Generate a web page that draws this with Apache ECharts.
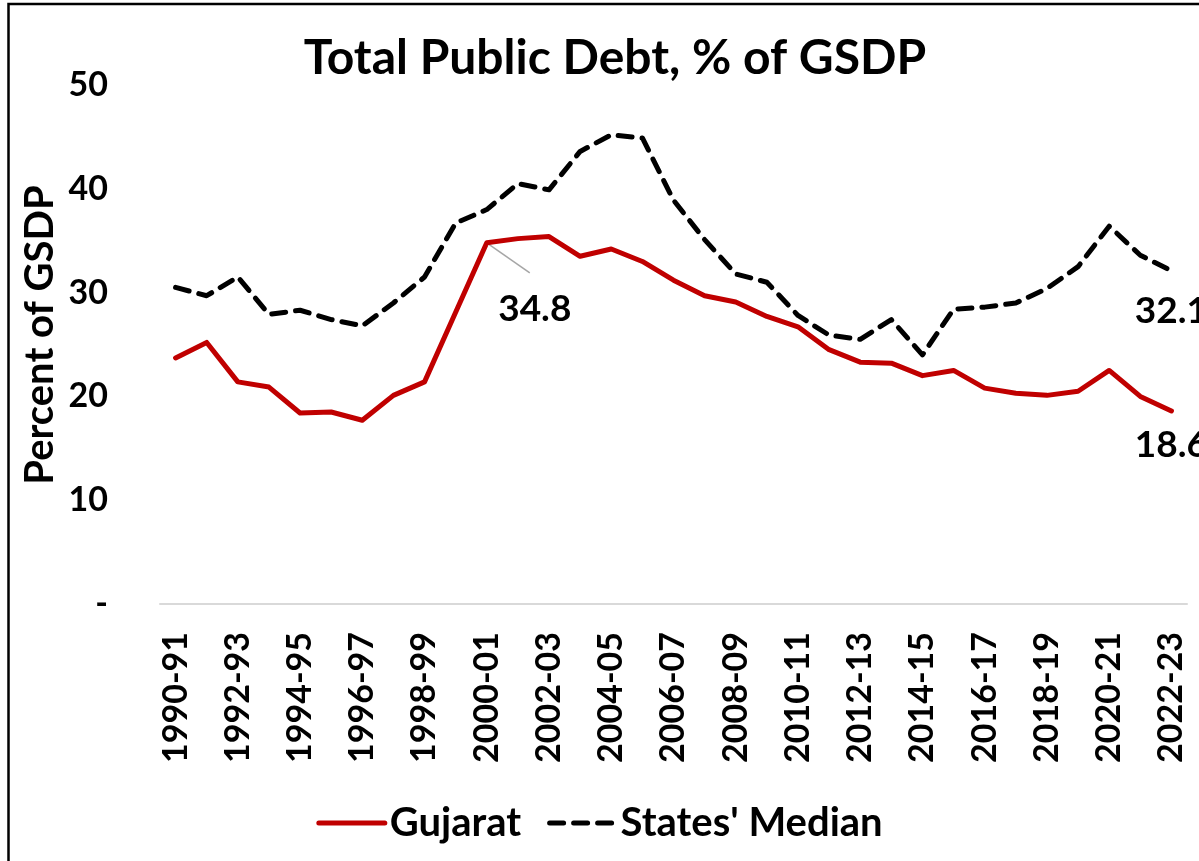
<!DOCTYPE html>
<html>
<head>
<meta charset="utf-8">
<script src="https://cdn.jsdelivr.net/npm/echarts@6/dist/echarts.min.js"></script>
<style>
  html, body { margin: 0; padding: 0; background: #fff; }
  #chart { width: 1199px; height: 861px; }
</style>
</head>
<body>
<div id="chart"></div>
<script>
const categories = ["1990-91","1991-92","1992-93","1993-94","1994-95","1995-96","1996-97","1997-98","1998-99","1999-00",
  "2000-01","2001-02","2002-03","2003-04","2004-05","2005-06","2006-07","2007-08","2008-09","2009-10",
  "2010-11","2011-12","2012-13","2013-14","2014-15","2015-16","2016-17","2017-18","2018-19","2019-20",
  "2020-21","2021-22","2022-23"];
const gujarat = [23.7, 25.2, 21.4, 20.9, 18.4, 18.5, 17.7, 20.1, 21.4, 28.1,
  34.8, 35.2, 35.4, 33.5, 34.2, 33.0, 31.2, 29.7, 29.1, 27.7,
  26.7, 24.5, 23.3, 23.2, 22.0, 22.5, 20.8, 20.3, 20.1, 20.5,
  22.5, 20.0, 18.6];
const statesMedian = [30.5, 29.7, 31.5, 27.9, 28.3, 27.4, 26.8, 29.0, 31.5, 36.7,
  38.0, 40.5, 39.9, 43.6, 45.2, 44.9, 38.9, 35.1, 31.8, 31.0,
  27.8, 25.9, 25.5, 27.4, 24.0, 28.4, 28.6, 29.0, 30.4, 32.5,
  36.4, 33.6, 32.1];
const yTicks = [0, 10, 20, 30, 40, 50];
const gujaratLabelIdx = [10, 32];
const medianLabelIdx = [32];
const calloutIdx = 10;

const FONT = 'Lato';
const chart = echarts.init(document.getElementById('chart'), null, { renderer: 'canvas' });

function buildData(values, labelIdx, labelCfg) {
  return values.map((v, i) => {
    if (labelIdx.indexOf(i) >= 0) {
      return { value: v, symbol: 'circle', symbolSize: 0,
        label: Object.assign({ show: true }, labelCfg(i)) };
    }
    return v;
  });
}

const labelText = { fontFamily: FONT, fontSize: 37, color: '#000', fontWeight: 'bold' };

function staticGraphics(extra) {
  return [
    { type: 'rect', shape: { x: 8.5, y: 4, width: 1400, height: 1000 },
      style: { fill: 'none', stroke: '#000', lineWidth: 2.5 }, silent: true },
    { type: 'text', x: 40, y: 335, rotation: Math.PI / 2,
      style: { text: 'Percent of GSDP', fontFamily: FONT, fontSize: 40, fontWeight: 'bold',
        fill: '#000', textAlign: 'center', textVerticalAlign: 'middle' } }
  ].concat(extra || []);
}

const option = {
  backgroundColor: '#fff',
  animation: false,
  title: {
    text: 'Total Public Debt, % of GSDP',
    left: 610, top: 30, textAlign: 'center',
    textStyle: { fontFamily: FONT, fontSize: 48, fontWeight: 'bold', color: '#000' }
  },
  graphic: staticGraphics(),
  legend: {
    bottom: 13, left: 'center',
    itemWidth: 66, itemHeight: 14, itemGap: 26,
    lineStyle: { width: 5, cap: 'round' },
    itemStyle: { opacity: 0, color: 'transparent', borderWidth: 0 },
    textStyle: { fontFamily: FONT, fontSize: 40, fontWeight: 'bold', color: '#000' },
    data: ['Gujarat', "States' Median"]
  },
  grid: { left: 160, right: 12, top: 85, bottom: 257, containLabel: false },
  xAxis: {
    type: 'category', data: categories, boundaryGap: true,
    axisLine: { show: true, lineStyle: { color: '#d9d9d9', width: 2 } },
    axisTick: { show: false },
    axisLabel: { interval: 1, rotate: 90, margin: 28,
      fontFamily: FONT, fontSize: 34, fontWeight: 'bold', color: '#000' }
  },
  yAxis: {
    type: 'value', min: yTicks[0], max: yTicks[yTicks.length - 1], interval: 10,
    axisLine: { show: false }, axisTick: { show: false }, splitLine: { show: false },
    axisLabel: { margin: 52, fontFamily: FONT, fontSize: 34, fontWeight: 'bold', color: '#000',
      formatter: v => v === 0 ? '-' : String(v) }
  },
  series: [
    {
      name: 'Gujarat', type: 'line', z: 3,
      data: buildData(gujarat, gujaratLabelIdx, i => i === calloutIdx
        ? Object.assign({ position: 'inside', offset: [48, 66], formatter: '{c}' }, labelText)
        : Object.assign({ position: 'bottom', distance: 16, formatter: '{c}' }, labelText)),
      symbol: 'none',
      lineStyle: { color: '#c00000', width: 5, cap: 'round', join: 'round' },
      itemStyle: { color: '#c00000' },
      emphasis: { disabled: true }
    },
    {
      name: "States' Median", type: 'line', z: 2,
      data: buildData(statesMedian, medianLabelIdx, i =>
        Object.assign({ position: 'bottom', distance: 22, formatter: '{c}' }, labelText)),
      symbol: 'none',
      lineStyle: { color: '#000', width: 5, type: [14, 10], cap: 'round', join: 'round' },
      itemStyle: { color: '#000' },
      emphasis: { disabled: true }
    }
  ]
};
chart.setOption(option);

// leader line for the callout label, anchored at the data point via the library's scales
const p = chart.convertToPixel({ seriesIndex: 0 }, [calloutIdx, gujarat[calloutIdx]]);
chart.setOption({
  graphic: staticGraphics([
    { type: 'line', shape: { x1: p[0], y1: p[1], x2: p[0] + 43, y2: p[1] + 30 },
      style: { stroke: '#a6a6a6', lineWidth: 1.5 }, z: 1, silent: true }
  ])
}, { replaceMerge: ['graphic'] });
</script>
</body>
</html>
